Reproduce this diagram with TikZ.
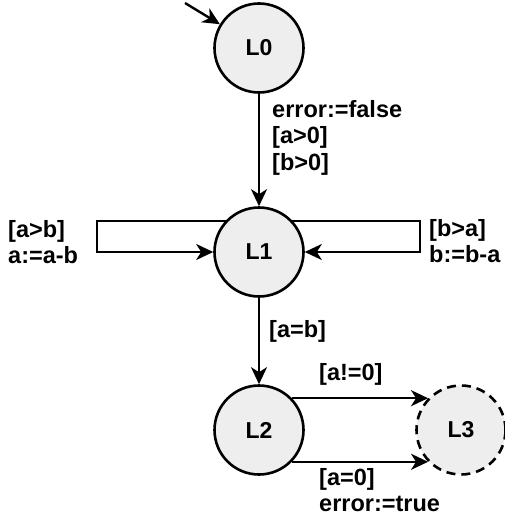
\documentclass[tikz,border=0pt]{standalone}
\usepackage{fontspec}
\setmainfont{Liberation Sans}
\usetikzlibrary{arrows.meta}
\definecolor{statefill}{HTML}{EEEEEE}
\newcommand{\firstline}{\rule{0pt}{17pt}}
\begin{document}
\begin{tikzpicture}[x=1pt,y=-1pt,
  state/.style={circle, draw, line width=2.6pt, fill=statefill, minimum size=89pt,
    inner sep=0pt, font=\fontsize{23}{26.5}\selectfont\bfseries},
  final/.style={state, dash pattern=on 9pt off 6pt},
  edge/.style={line width=2.4pt, -{Stealth[length=17pt,width=16pt,inset=5pt]}},
  lbl/.style={anchor=north west, inner sep=0pt, align=left,
    font=\fontsize{23.5}{26.5}\selectfont\bfseries}]
\useasboundingbox (0,0) rectangle (504,519);

% states
\node[state] (L0) at (259,48) {L0};
\node[state] (L1) at (259,252) {L1};
\node[state] (L2) at (259,430) {L2};
\node[final] (L3) at (461,430) {L3};

% initial arrow
\coordinate (init) at (185,3);
\draw[edge] (init) -- (L0);

% transitions
\draw[edge] (L0) -- (L1);
\coordinate (lx) at (97,0);
\coordinate (rx) at (420,0);
\draw[edge] (L1.137) -- (L1.137 -| lx) |- (L1.west);
\draw[edge] (L1.43) -- (L1.43 -| rx) |- (L1.east);
\draw[edge] (L1) -- (L2);
\draw[edge] (L2.44) -- (L3.136);
\draw[edge] (L2.-44) -- (L3.-136);

% guards and updates
\node[lbl] (g01) at (272,100) {\firstline error:=false\\{}[a>0]\\{}[b>0]};
\node[lbl] (g11a) at (8,220) {\firstline [a>b]\\a:=a-b};
\node[lbl] (g11b) at (429,219) {\firstline [b>a]\\b:=b-a};
\node[lbl] (g12) at (269,320) {\firstline [a=b]};
\node[lbl] (g23a) at (319,363) {\firstline [a!=0]};
\node[lbl] (g23b) at (319,468) {\firstline [a=0]\\error:=true};
\end{tikzpicture}
\end{document}
